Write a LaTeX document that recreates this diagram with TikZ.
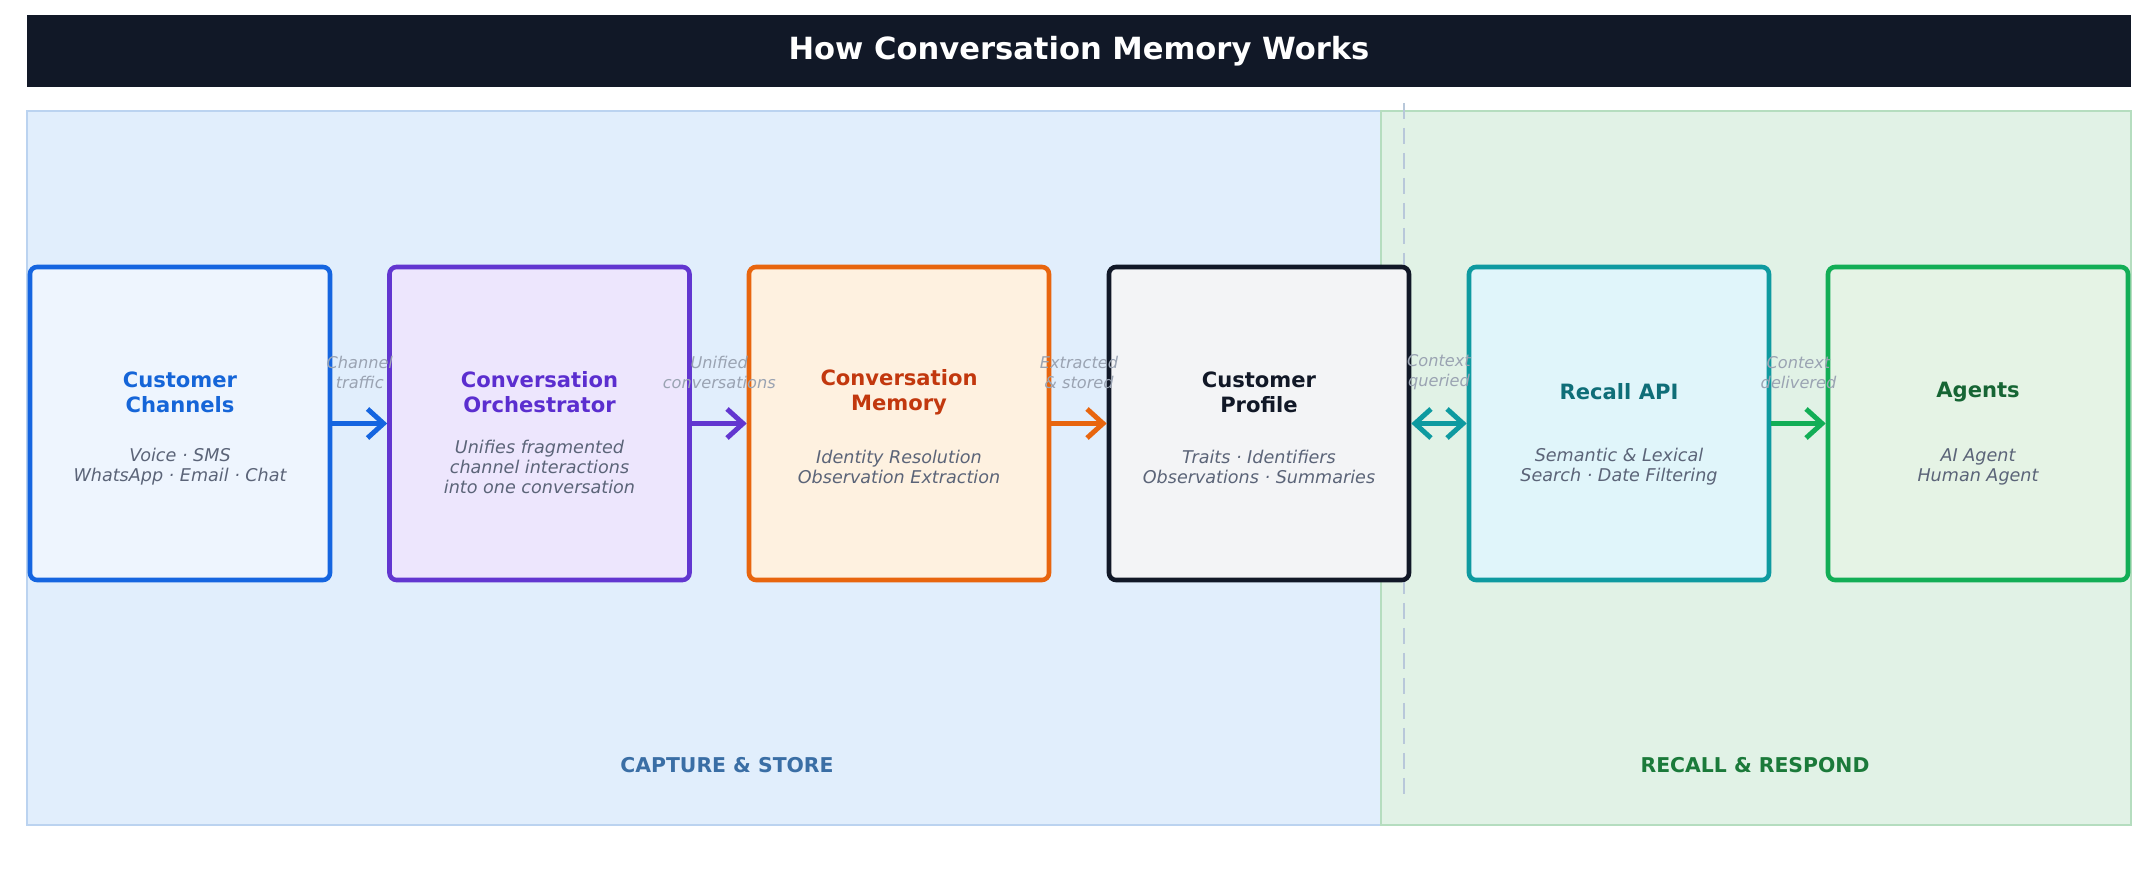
\documentclass[tikz,border=0pt]{standalone}
\usepackage{fontspec}
\setmainfont{DejaVu Sans}
\usetikzlibrary{arrows.meta}

\begin{document}
\begin{tikzpicture}[
>={Straight Barb[length=1.6mm,width=2.9mm]},
stage/.style={draw,line width=1.3pt,rounded corners=2pt,minimum width=3.0cm,minimum height=3.13cm},
stagetitle/.style={font=\fontsize{6}{7.1}\selectfont\bfseries,align=center},
stagenote/.style={font=\fontsize{5}{5.7}\selectfont\itshape,align=center,text=note},
flow/.style={->,line width=1.4pt},
flowlabel/.style={font=\fontsize{4.6}{5.6}\selectfont\itshape,align=center,text=faint},
zonelabel/.style={font=\fontsize{5.8}{7}\selectfont\bfseries}]
\definecolor{ink}{RGB}{17,24,39}
\definecolor{note}{RGB}{91,100,120}
\definecolor{faint}{RGB}{154,163,178}
\definecolor{captfill}{RGB}{225,238,252}
\definecolor{captline}{RGB}{187,211,240}
\definecolor{captext}{RGB}{58,110,165}
\definecolor{respfill}{RGB}{225,242,230}
\definecolor{respline}{RGB}{181,221,191}
\definecolor{resptext}{RGB}{27,122,58}
\definecolor{divider}{RGB}{184,200,218}
\definecolor{chanc}{RGB}{21,101,224}
\definecolor{chanf}{RGB}{238,245,254}
\definecolor{chant}{RGB}{21,101,216}
\definecolor{orchc}{RGB}{98,54,208}
\definecolor{orchf}{RGB}{237,230,253}
\definecolor{orcht}{RGB}{91,46,207}
\definecolor{memc}{RGB}{232,101,14}
\definecolor{memf}{RGB}{254,241,224}
\definecolor{memt}{RGB}{194,56,14}
\definecolor{proff}{RGB}{243,244,246}
\definecolor{recallc}{RGB}{14,154,160}
\definecolor{recallf}{RGB}{224,245,250}
\definecolor{recallt}{RGB}{15,110,120}
\definecolor{agentc}{RGB}{18,174,86}
\definecolor{agentf}{RGB}{229,243,229}
\definecolor{agentt}{RGB}{22,101,52}
\useasboundingbox (0,0) rectangle (21.5,-8.96);
% zones
\fill[white] (0,0) rectangle (21.5,-8.96);
\draw[draw=captline,fill=captfill] (0.27,-1.11) rectangle (13.81,-8.25);
\draw[draw=respline,fill=respfill] (13.81,-1.11) rectangle (21.31,-8.25);
\draw[divider,line width=0.5pt,dash pattern=on 0.16cm off 0.09cm] (14.04,-1.03) -- (14.04,-7.95);
\node[fill=ink,text=white,minimum width=21.04cm,minimum height=0.72cm,inner sep=0pt,font=\fontsize{8.7}{10}\selectfont\bfseries] (head) at (10.79,-0.51) {How Conversation Memory Works};
% stages
\node[stage,draw=chanc,fill=chanf] (channels) at (1.80,-4.235) {};
\node[stagetitle,text=chant] (channels-t) at (1.80,-3.92) {Customer\\Channels};
\node[stagenote] (channels-n) at (1.80,-4.67) {Voice · SMS\\WhatsApp · Email · Chat};
\node[stage,draw=orchc,fill=orchf] (orch) at (5.395,-4.235) {};
\node[stagetitle,text=orcht] (orch-t) at (5.395,-3.92) {Conversation\\Orchestrator};
\node[stagenote] (orch-n) at (5.395,-4.67) {Unifies fragmented\\channel interactions\\into one conversation};
\node[stage,draw=memc,fill=memf] (memory) at (8.99,-4.235) {};
\node[stagetitle,text=memt] (memory-t) at (8.99,-3.92) {Conversation\\Memory};
\node[stagenote] (memory-n) at (8.99,-4.67) {Identity Resolution\\Observation Extraction};
\node[stage,draw=ink,fill=proff] (profile) at (12.59,-4.235) {};
\node[stagetitle,text=ink] (profile-t) at (12.59,-3.92) {Customer\\Profile};
\node[stagenote] (profile-n) at (12.59,-4.67) {Traits · Identifiers\\Observations · Summaries};
\node[stage,draw=recallc,fill=recallf] (recall) at (16.19,-4.235) {};
\node[stagetitle,text=recallt] (recall-t) at (16.19,-3.92) {Recall API};
\node[stagenote] (recall-n) at (16.19,-4.67) {Semantic \& Lexical\\Search · Date Filtering};
\node[stage,draw=agentc,fill=agentf] (agents) at (19.78,-4.235) {};
\node[stagetitle,text=agentt] (agents-t) at (19.78,-3.92) {Agents};
\node[stagenote] (agents-n) at (19.78,-4.67) {AI Agent\\Human Agent};
% flows
\draw[flow,chanc] (channels) -- (orch) node[midway,flowlabel,yshift=0.51cm] {Channel\\traffic};
\draw[flow,orchc] (orch) -- (memory) node[midway,flowlabel,yshift=0.51cm] {Unified\\conversations};
\draw[flow,memc] (memory) -- (profile) node[midway,flowlabel,yshift=0.51cm] {Extracted\\\& stored};
\draw[flow,<->,recallc] (profile) -- (recall) node[midway,flowlabel,yshift=0.51cm] {Context\\queried};
\draw[flow,agentc] (recall) -- (agents) node[midway,flowlabel,yshift=0.51cm] {Context\\delivered};
% zone labels
\node[zonelabel,text=captext] (capture-l) at (7.27,-7.65) {CAPTURE \& STORE};
\node[zonelabel,text=resptext] (respond-l) at (17.55,-7.65) {RECALL \& RESPOND};
\end{tikzpicture}
\end{document}
